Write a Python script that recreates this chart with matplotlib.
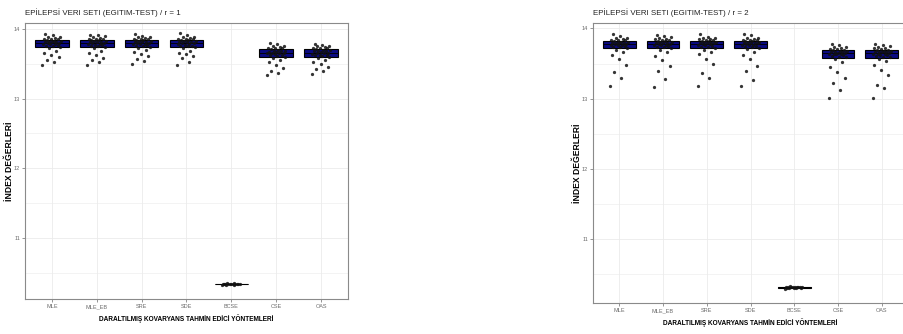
import numpy as np
import matplotlib
matplotlib.use("Agg")
import matplotlib.pyplot as plt
from matplotlib.ticker import MultipleLocator, FixedLocator

methods = ["MLE", "MLE_EB", "SRE", "SDE", "BCSE", "CSE", "OAS"]

title_r1 = "EPİLEPSİ VERI SETI (EGITIM-TEST) / r = 1"
title_r2 = "EPİLEPSİ VERI SETI (EGITIM-TEST) / r = 2"
ylabel = "İNDEX DEĞERLERİ"
xlabel = "DARALTILMIŞ KOVARYANS TAHMİN EDİCİ YÖNTEMLERİ"
yticks = [11, 12, 13, 14]

# ---------------- r = 1 ----------------
r1_MLE = [13.48, 13.52, 13.56, 13.60, 13.63, 13.66, 13.69, 13.72,
          13.74, 13.75, 13.76, 13.77, 13.78, 13.78, 13.79, 13.80,
          13.80, 13.81, 13.81, 13.82, 13.82, 13.83, 13.83, 13.84,
          13.85, 13.85, 13.86, 13.87, 13.88, 13.89, 13.91, 13.93]
r1_MLE_EB = [13.49, 13.53, 13.55, 13.59, 13.62, 13.65, 13.68, 13.72,
             13.74, 13.75, 13.76, 13.77, 13.77, 13.78, 13.79, 13.80,
             13.80, 13.81, 13.82, 13.82, 13.83, 13.83, 13.84, 13.84,
             13.85, 13.86, 13.86, 13.87, 13.88, 13.90, 13.91, 13.92]
r1_SRE = [13.50, 13.54, 13.57, 13.61, 13.64, 13.67, 13.70, 13.73,
          13.74, 13.75, 13.76, 13.77, 13.78, 13.79, 13.79, 13.80,
          13.80, 13.81, 13.81, 13.82, 13.83, 13.83, 13.84, 13.84,
          13.85, 13.86, 13.86, 13.87, 13.88, 13.89, 13.90, 13.93]
r1_SDE = [13.48, 13.53, 13.58, 13.61, 13.64, 13.66, 13.69, 13.72,
          13.74, 13.75, 13.76, 13.76, 13.77, 13.78, 13.79, 13.80,
          13.80, 13.81, 13.82, 13.82, 13.83, 13.83, 13.84, 13.84,
          13.85, 13.85, 13.86, 13.87, 13.88, 13.89, 13.91, 13.94]
r1_BCSE = [10.325, 10.33, 10.33, 10.335, 10.335, 10.335, 10.34, 10.34,
           10.34, 10.34, 10.34, 10.345, 10.345, 10.345, 10.35, 10.355]
r1_CSE = [13.34, 13.37, 13.40, 13.44, 13.48, 13.52, 13.55, 13.58,
          13.60, 13.61, 13.62, 13.63, 13.64, 13.65, 13.65, 13.66,
          13.66, 13.67, 13.67, 13.68, 13.69, 13.69, 13.70, 13.71,
          13.72, 13.72, 13.73, 13.74, 13.75, 13.76, 13.78, 13.80]
r1_OAS = [13.36, 13.39, 13.42, 13.46, 13.50, 13.53, 13.56, 13.58,
          13.60, 13.61, 13.62, 13.63, 13.63, 13.64, 13.65, 13.66,
          13.66, 13.67, 13.68, 13.68, 13.69, 13.70, 13.70, 13.71,
          13.72, 13.72, 13.73, 13.74, 13.75, 13.76, 13.77, 13.78]

# ---------------- r = 2 ----------------
r2_MLE = [13.18, 13.29, 13.38, 13.48, 13.56, 13.62, 13.66, 13.70,
          13.72, 13.73, 13.74, 13.75, 13.76, 13.77, 13.77, 13.78,
          13.78, 13.79, 13.79, 13.80, 13.80, 13.81, 13.81, 13.82,
          13.83, 13.84, 13.84, 13.85, 13.86, 13.87, 13.89, 13.92]
r2_MLE_EB = [13.17, 13.28, 13.40, 13.46, 13.55, 13.61, 13.66, 13.70,
             13.72, 13.73, 13.74, 13.75, 13.76, 13.76, 13.77, 13.78,
             13.78, 13.79, 13.80, 13.80, 13.81, 13.81, 13.82, 13.82,
             13.83, 13.84, 13.85, 13.85, 13.86, 13.88, 13.89, 13.91]
r2_SRE = [13.18, 13.30, 13.36, 13.49, 13.57, 13.63, 13.67, 13.70,
          13.72, 13.73, 13.74, 13.75, 13.76, 13.77, 13.78, 13.78,
          13.79, 13.79, 13.80, 13.80, 13.81, 13.81, 13.82, 13.82,
          13.83, 13.84, 13.85, 13.85, 13.86, 13.87, 13.88, 13.92]
r2_SDE = [13.18, 13.27, 13.39, 13.47, 13.56, 13.62, 13.67, 13.71,
          13.72, 13.73, 13.74, 13.75, 13.76, 13.77, 13.77, 13.78,
          13.79, 13.79, 13.80, 13.80, 13.81, 13.81, 13.82, 13.82,
          13.83, 13.84, 13.84, 13.85, 13.86, 13.87, 13.90, 13.92]
r2_BCSE = [10.29, 10.295, 10.30, 10.30, 10.305, 10.305, 10.31, 10.31,
           10.31, 10.31, 10.315, 10.315, 10.315, 10.32, 10.32, 10.325]
r2_CSE = [13.01, 13.13, 13.22, 13.30, 13.38, 13.45, 13.52, 13.57,
          13.59, 13.60, 13.61, 13.62, 13.63, 13.63, 13.64, 13.64,
          13.65, 13.65, 13.66, 13.66, 13.67, 13.68, 13.68, 13.69,
          13.70, 13.71, 13.71, 13.72, 13.73, 13.74, 13.76, 13.78]
r2_OAS = [13.01, 13.15, 13.20, 13.33, 13.41, 13.48, 13.53, 13.57,
          13.59, 13.60, 13.61, 13.62, 13.62, 13.63, 13.64, 13.64,
          13.65, 13.66, 13.66, 13.67, 13.67, 13.68, 13.68, 13.69,
          13.70, 13.71, 13.72, 13.72, 13.73, 13.75, 13.76, 13.78]

panel_r1 = [r1_MLE, r1_MLE_EB, r1_SRE, r1_SDE, r1_BCSE, r1_CSE, r1_OAS]
panel_r2 = [r2_MLE, r2_MLE_EB, r2_SRE, r2_SDE, r2_BCSE, r2_CSE, r2_OAS]

W, H = 904, 334
fig = plt.figure(figsize=(W / 100, H / 100), dpi=100)

FONT = "Liberation Sans"
BOX_FILL = "#0a0a80"
GRID = "#ebebeb"
TICKC = "#6b6b6b"


def px_rect(x0, y0, x1, y1):
    return [x0 / W, 1 - y1 / H, (x1 - x0) / W, (y1 - y0) / H]


def draw_panel(rect, data, ylim, title, title_xy, ylab_x, xlab_y):
    ax = fig.add_axes(rect)
    pos = np.arange(len(methods))
    ax.set_xlim(-0.6, len(methods) - 0.4)
    ax.set_ylim(*ylim)
    ax.set_axisbelow(True)
    ax.yaxis.set_major_locator(FixedLocator(yticks))
    ax.yaxis.set_minor_locator(MultipleLocator(0.5))
    ax.set_xticks(pos)
    ax.set_xticklabels(methods)
    ax.grid(True, which="major", color=GRID, lw=0.6)
    ax.grid(True, which="minor", axis="y", color=GRID, lw=0.4)
    ax.tick_params(axis="both", which="major", length=2, width=0.5,
                   color=TICKC, labelcolor=TICKC, labelsize=4.0, pad=1.5)
    ax.tick_params(axis="x", which="major", pad=4.8)
    ax.tick_params(axis="y", which="minor", length=0)
    for lab in ax.get_xticklabels():
        lab.set_fontfamily(FONT)
        lab.set_verticalalignment("baseline")
    for lab in ax.get_yticklabels():
        lab.set_fontfamily(FONT)
    for s in ax.spines.values():
        s.set_color("#8a8a8a")
        s.set_linewidth(0.8)

    ax.boxplot(data, positions=pos, widths=0.75, patch_artist=True,
               showfliers=False, whis=(0, 100), manage_ticks=False,
               medianprops=dict(color="black", lw=0.6),
               whiskerprops=dict(lw=0),
               capprops=dict(lw=0),
               boxprops=dict(facecolor=BOX_FILL, edgecolor="black", lw=0.8))

    for i, vals in enumerate(data):
        n = len(vals)
        off = ((np.arange(n) * 0.6180339887) % 1.0 - 0.5) * 0.42
        ax.scatter(pos[i] + off, vals, s=5.5, color="#111111", alpha=0.85,
                   linewidths=0, zorder=4)

    fig.text(title_xy[0] / W, 1 - title_xy[1] / H, title, fontsize=5.7,
             family=FONT, ha="left", va="center", color="#222222")
    cy = rect[1] + rect[3] / 2
    fig.text(ylab_x / W, cy, ylabel, rotation=90, fontsize=6.2, family=FONT,
             fontweight="bold", ha="center", va="center")
    cx = rect[0] + rect[2] / 2
    fig.text(cx, 1 - xlab_y / H, xlabel, fontsize=4.7, family=FONT,
             fontweight="bold", ha="center", va="center")
    return ax


draw_panel(px_rect(25, 23, 348, 299), panel_r1, (10.124, 14.086), title_r1,
           (25, 13), 10.0, 319)
draw_panel(px_rect(593, 23, 908, 303), panel_r2, (10.088, 14.078), title_r2,
           (593, 13), 577.5, 323)

fig.savefig("out.png", dpi=100)
